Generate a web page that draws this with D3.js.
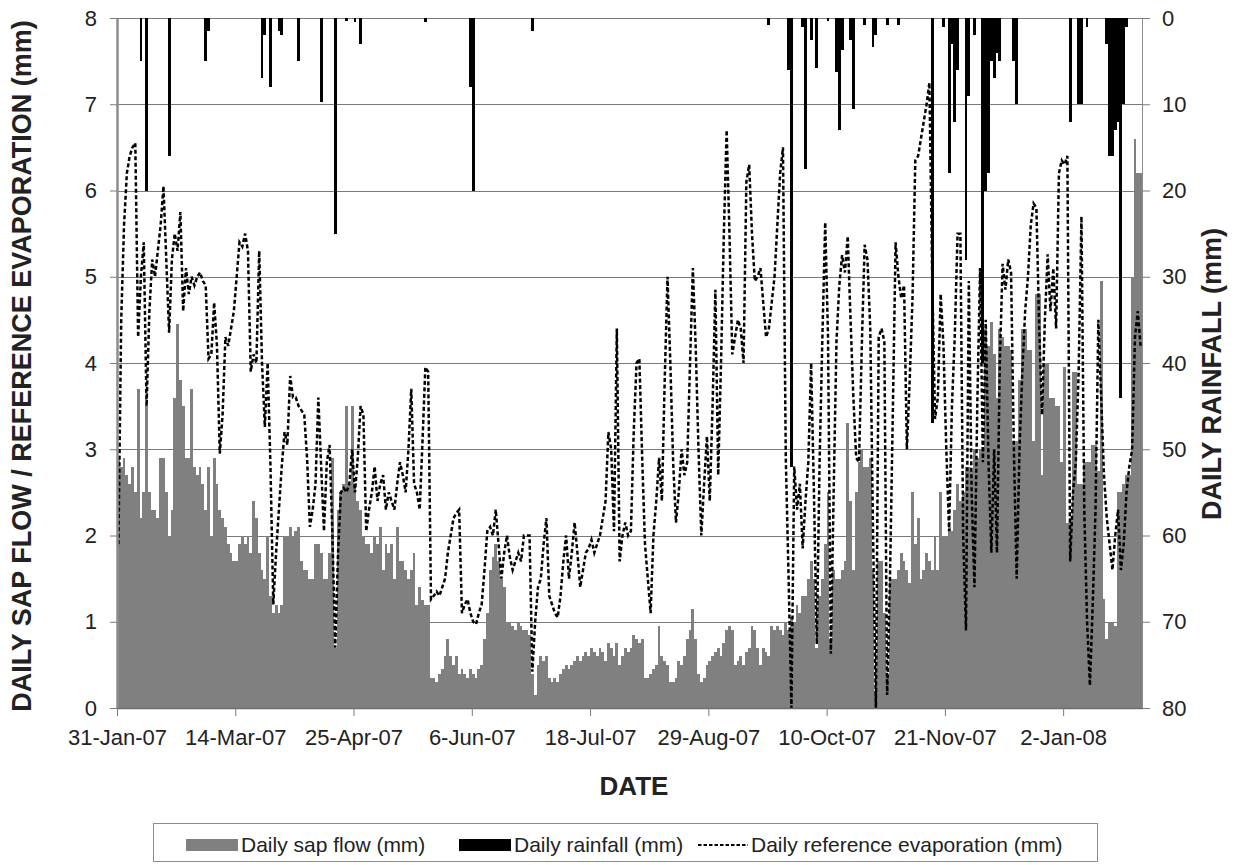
<!DOCTYPE html>
<html>
<head>
<meta charset="utf-8">
<script src="https://cdn.jsdelivr.net/npm/d3@7"></script>
<style>
  body { margin: 0; background: #fff; }
  text { font-family: 'Liberation Sans', Arial, sans-serif; fill: #222; }
</style>
</head>
<body>
<svg id="chart" width="1240" height="865"></svg>
<script>
// first day of the record, x-axis tick dates
const startDate = '31-Jan-07';
const tickLabels = ['31-Jan-07', '14-Mar-07', '25-Apr-07', '6-Jun-07', '18-Jul-07',
    '29-Aug-07', '10-Oct-07', '21-Nov-07', '2-Jan-08'];

// daily sap flow (mm), one value per day from startDate
const sapFlow = [
    2.9, 2.8, 2.9, 2.7, 2.6, 2.8, 2.5, 3.7, 2.2, 2.5,
    3.5, 2.5, 2.3, 2.3, 2.2, 2.9, 2.9, 2.5, 2.0, 2.3,
    3.6, 4.45, 3.8, 3.5, 2.9, 2.9, 3.7, 2.8, 2.7, 2.8,
    2.6, 2.3, 2.8, 2.0, 2.9, 2.6, 2.3, 2.2, 2.1, 1.9,
    1.8, 1.7, 1.7, 1.9, 2.0, 1.9, 2.0, 1.8, 2.4, 2.2,
    1.8, 1.6, 1.5, 2.0, 1.3, 1.1, 1.2, 1.1, 1.2, 2.0,
    2.0, 2.1, 2.0, 2.05, 2.1, 1.7, 1.6, 1.6, 1.5, 1.5,
    1.9, 1.9, 1.8, 1.5, 1.5, 1.8, 2.9, 0.7, 2.3, 2.5,
    2.6, 3.5, 2.6, 3.5, 2.6, 2.4, 2.3, 2.0, 1.9, 1.9,
    1.8, 2.0, 1.9, 2.1, 1.6, 1.9, 1.8, 1.9, 1.5, 2.1,
    1.7, 1.7, 1.6, 1.5, 1.6, 1.8, 1.2, 1.4, 1.25, 1.2,
    1.2, 0.35, 0.35, 0.3, 0.4, 0.45, 0.6, 0.8, 0.6, 0.5,
    0.6, 0.4, 0.45, 0.4, 0.35, 0.45, 0.4, 0.35, 0.45, 0.5,
    0.8, 1.1, 1.6, 1.75, 1.9, 1.7, 1.5, 1.4, 1.0, 1.0,
    0.95, 0.9, 1.0, 0.95, 0.9, 0.9, 0.85, 0.4, 0.15, 0.5,
    0.6, 0.55, 0.6, 0.35, 0.3, 0.35, 0.3, 0.4, 0.45, 0.5,
    0.45, 0.5, 0.55, 0.6, 0.55, 0.6, 0.65, 0.6, 0.7, 0.65,
    0.6, 0.7, 0.65, 0.55, 0.75, 0.7, 0.6, 0.75, 0.5, 0.6,
    0.7, 0.65, 0.7, 0.85, 0.8, 0.75, 0.8, 0.35, 0.35, 0.4,
    0.45, 0.5, 0.95, 0.6, 0.55, 0.5, 0.3, 0.3, 0.35, 0.55,
    0.5, 0.6, 0.8, 0.9, 1.15, 0.8, 0.4, 0.3, 0.35, 0.5,
    0.55, 0.6, 0.65, 0.7, 0.6, 0.75, 0.9, 0.95, 0.9, 0.5,
    0.55, 0.6, 0.5, 0.65, 0.7, 0.95, 0.9, 0.7, 0.5, 0.7,
    0.65, 0.6, 0.95, 0.9, 0.95, 0.9, 0.85, 1.0, 0.9, 1.05,
    1.0, 1.2, 1.1, 1.3, 1.3, 1.5, 1.7, 1.5, 0.7, 1.3,
    1.5, 1.9, 2.5, 0.8, 1.6, 1.5, 1.5, 1.6, 1.7, 3.3,
    2.4, 1.6, 2.5, 2.85, 3.0, 2.8, 2.8, 2.9, 1.6, 0.2,
    1.7, 1.7, 1.1, 0.4, 1.5, 1.5, 1.5, 1.6, 1.8, 1.7,
    1.6, 1.45, 2.5, 1.9, 2.2, 1.5, 1.6, 1.8, 1.7, 1.6,
    2.0, 1.6, 2.5, 2.0, 2.0, 2.1, 2.05, 2.3, 2.6, 2.4,
    2.5, 2.8, 2.8, 2.75, 3.0, 2.9, 3.0, 3.0, 4.4, 4.2,
    4.47, 4.1, 3.6, 4.4, 4.3, 4.2, 4.2, 4.15, 3.1, 3.1,
    3.8, 4.4, 4.4, 4.15, 4.15, 3.1, 4.8, 4.8, 2.7, 4.0,
    4.0, 3.6, 3.6, 3.5, 3.5, 2.85, 3.95, 2.15, 2.2, 3.9,
    3.9, 2.6, 2.6, 2.85, 2.85, 2.85, 3.05, 3.05, 2.75, 4.95,
    1.26, 0.8, 1.0, 1.0, 0.95, 2.5, 2.5, 2.6, 2.7, 2.7,
    5.0, 6.6, 6.2, 6.2
];

// daily reference evaporation (mm)
const refEvap = [
    1.9, 4.5, 5.6, 6.2, 6.4, 6.5, 6.55, 4.3, 5.0, 5.4,
    3.5, 4.6, 5.2, 5.0, 5.3, 5.6, 6.05, 5.2, 4.35, 5.2,
    5.5, 5.3, 5.75, 4.6, 5.1, 4.8, 5.0, 4.9, 5.0, 5.05,
    4.95, 4.9, 4.05, 4.1, 4.7, 4.2, 2.95, 3.4, 4.3, 4.2,
    4.4, 4.6, 5.0, 5.4, 5.35, 5.5, 5.3, 3.9, 4.1, 4.0,
    5.3, 4.0, 3.26, 4.0, 2.8, 1.2, 1.8, 2.3, 2.8, 3.2,
    3.05, 3.85, 3.6, 3.6, 3.5, 3.45, 3.4, 2.9, 2.1, 2.3,
    2.6, 3.6, 2.8, 2.05, 2.85, 3.05, 2.0, 0.7, 1.8, 2.5,
    2.55, 2.5, 2.6, 3.0, 2.5, 2.9, 3.5, 3.4, 2.05, 2.3,
    2.5, 2.8, 2.4, 2.6, 2.7, 2.3, 2.5, 2.4, 2.3, 2.6,
    2.85, 2.7, 2.5, 3.0, 3.7, 2.6, 2.5, 2.3, 3.1, 3.95,
    3.9, 1.26, 1.3, 1.35, 1.3, 1.4, 1.5, 1.8, 2.0, 2.2,
    2.26, 2.3, 1.1, 1.2, 1.26, 1.1, 1.0, 0.97, 1.1, 1.2,
    1.6, 2.05, 2.1, 2.0, 2.3, 1.9, 1.5, 1.8, 2.0, 1.75,
    1.6, 1.7, 1.8, 1.7, 2.0, 2.0, 2.0, 0.42, 1.0, 1.4,
    1.5, 1.9, 2.2, 1.3, 1.2, 1.1, 1.05, 1.3, 1.7, 2.0,
    1.5, 1.8, 2.15, 1.8, 1.4, 1.6, 1.8, 1.85, 1.95, 1.8,
    1.9, 2.0, 2.2, 2.4, 3.2, 3.0, 2.05, 4.4, 1.7, 2.0,
    2.15, 2.0, 2.05, 3.2, 4.0, 4.05, 2.9, 1.9, 1.5, 1.1,
    2.0, 2.4, 2.9, 2.4, 3.8, 5.0, 4.0, 2.85, 2.15, 2.5,
    3.0, 2.7, 2.85, 4.0, 5.1, 4.2, 3.0, 2.0, 2.6, 3.15,
    2.4, 3.5, 4.85, 2.7, 4.0, 5.5, 6.7, 5.5, 4.1, 4.3,
    4.5, 4.4, 4.0, 6.1, 6.3, 5.5, 4.95, 5.0, 5.1, 4.7,
    4.3, 4.4, 4.7, 5.0, 5.6, 6.2, 6.5, 2.9, 1.5, 0.0,
    2.8, 2.3, 2.6, 1.85, 2.4, 2.85, 4.0, 2.5, 0.74, 2.85,
    4.3, 5.63, 4.3, 0.63, 2.5, 4.25, 4.9, 5.25, 5.05, 5.47,
    4.5, 3.6, 2.9, 2.85, 4.2, 5.37, 5.2, 4.4, 2.0, 0.0,
    4.3, 4.4, 4.25, 0.15, 1.5, 3.4, 5.4, 5.0, 4.75, 4.9,
    3.0, 3.8, 4.75, 6.35, 6.4, 6.6, 6.8, 7.0, 7.25, 5.0,
    3.35, 3.6, 4.8, 4.2, 3.0, 2.05, 3.5, 4.3, 5.5, 5.5,
    2.0, 0.9, 4.95, 2.5, 1.4, 3.5, 5.1, 2.85, 4.5, 2.85,
    1.8, 3.0, 1.8, 4.0, 5.15, 4.85, 5.2, 5.05, 3.0, 1.5,
    3.0, 3.9, 4.6, 5.0, 5.6, 5.85, 5.8, 4.4, 3.4, 4.5,
    5.26, 4.6, 5.1, 4.4, 6.2, 6.35, 6.3, 6.4, 1.7, 2.5,
    2.85, 3.9, 5.7, 2.3, 1.0, 0.26, 1.2, 2.3, 4.5, 3.6,
    2.7, 2.2, 1.9, 1.6, 2.0, 2.3, 1.6, 1.9, 2.5, 2.8,
    3.0, 4.3, 4.6, 4.2
];

// rainfall days (index from startDate) and amounts (mm); other days are dry
const rainDay = [8, 10, 18, 31, 32, 51, 52, 54, 57, 58, 64, 72, 77, 81, 84, 86, 109, 125, 126, 147,
    231, 238, 239, 243, 244, 246, 248, 252, 255, 256, 257, 260, 261, 265, 268, 269, 273, 277,
    289, 293, 295, 296, 297, 298, 301, 302, 304, 307, 308, 309, 310, 311, 312, 313, 318, 319,
    338, 341, 342, 344, 351, 352, 353, 354, 355, 356, 357, 358];
const rainMm = [5, 20, 16, 5, 1.5, 7, 2, 8, 1.5, 2, 5, 9.7, 25, 0.4, 0.5, 3, 0.5, 8, 20, 1.5,
    0.8, 6, 52, 1, 17.5, 2.6, 5.8, 0.4, 6.3, 13, 3.7, 2.6, 10.5, 0.8, 3.4, 2, 0.8, 0.8,
    47, 1, 18, 3, 12, 6, 28, 9, 2, 40, 20, 18, 5, 7, 4, 5, 5, 10,
    12, 10, 10, 1, 3, 16, 16, 13, 12, 44, 10, 1];

const parse = d3.utcParse('%d-%b-%y');
const start = parse(startDate);
const nDays = sapFlow.length;
const day = i => d3.utcDay.offset(start, i);

const plotLeft = 117, plotRight = 1142, plotTop = 18, plotBottom = 708;

const x = d3.scaleUtc().domain([start, day(nDays)]).range([plotLeft, plotRight]);
const yL = d3.scaleLinear().domain([0, 8]).range([plotBottom, plotTop]);
const yR = d3.scaleLinear().domain([0, 80]).range([plotTop, plotBottom]);
const barW = x(day(1)) - x(start);
// whole-pixel bar edges so neighbouring columns join without seams
const barX = i => Math.round(x(day(i)));
const barWidth = i => barX(i + 1) - barX(i);

const svg = d3.select('#chart');

// horizontal gridlines
svg.append('g')
    .selectAll('line')
    .data(d3.range(1, 9))
    .join('line')
    .attr('x1', plotLeft)
    .attr('x2', plotRight)
    .attr('y1', d => Math.round(yL(d)) + 0.5)
    .attr('y2', d => Math.round(yL(d)) + 0.5)
    .attr('stroke', '#7a7a7a')
    .attr('stroke-width', 1);

// sap flow bars
svg.append('g')
    .attr('shape-rendering', 'crispEdges')
    .selectAll('rect')
    .data(sapFlow)
    .join('rect')
    .attr('x', (_, i) => barX(i))
    .attr('width', (_, i) => barWidth(i))
    .attr('y', d => yL(d))
    .attr('height', d => plotBottom - yL(d))
    .attr('fill', '#808080');

// rainfall bars hanging from the top
svg.append('g')
    .attr('shape-rendering', 'crispEdges')
    .selectAll('rect')
    .data(rainDay)
    .join('rect')
    .attr('x', d => barX(d))
    .attr('width', d => barWidth(d))
    .attr('y', plotTop)
    .attr('height', (_, i) => yR(rainMm[i]) - plotTop)
    .attr('fill', '#000');

// reference evaporation, dashed
const line = d3.line()
    .x((_, i) => x(day(i)) + barW / 2)
    .y(d => yL(d));

svg.append('path')
    .datum(refEvap)
    .attr('d', line)
    .attr('fill', 'none')
    .attr('stroke', '#000')
    .attr('stroke-width', 2.5)
    .attr('stroke-dasharray', '4,2.5');

// axes
const styleAxis = (g, color, width) => {
    g.select('.domain').attr('stroke', color).attr('stroke-width', width).attr('fill', 'none');
    g.selectAll('.tick line').attr('stroke', '#7a7a7a');
    g.selectAll('.tick text').style('font-size', '22px').attr('fill', '#222');
};

svg.append('g')
    .attr('transform', `translate(${plotLeft},0)`)
    .call(d3.axisLeft(yL).ticks(8).tickSize(7).tickSizeOuter(0).tickPadding(13).tickFormat(d3.format('d')))
    .call(g => styleAxis(g, '#8c8c8c', 2.5));

svg.append('g')
    .attr('transform', `translate(${plotRight},0)`)
    .call(d3.axisRight(yR).tickValues(d3.range(0, 81, 10)).tickSize(8).tickSizeOuter(0).tickPadding(12))
    .call(g => styleAxis(g, '#8c8c8c', 1));

svg.append('g')
    .attr('transform', `translate(0,${plotBottom})`)
    .call(d3.axisBottom(x)
        .tickValues(tickLabels.map(parse))
        .tickFormat(d3.utcFormat('%-d-%b-%y'))
        .tickSize(8).tickSizeOuter(0).tickPadding(13))
    .call(g => styleAxis(g, '#6e6e6e', 1.5));

// axis titles
svg.append('text')
    .attr('transform', 'translate(31,366) rotate(-90)')
    .attr('text-anchor', 'middle')
    .style('font-size', '27px')
    .style('font-weight', 'bold')
    .text('DAILY SAP FLOW / REFERENCE EVAPORATION (mm)');

svg.append('text')
    .attr('transform', 'translate(1202,374) rotate(-90)')
    .attr('text-anchor', 'middle')
    .attr('dy', '0.7em')
    .style('font-size', '27px')
    .style('font-weight', 'bold')
    .text('DAILY RAINFALL (mm)');

svg.append('text')
    .attr('x', 634)
    .attr('y', 795)
    .attr('text-anchor', 'middle')
    .style('font-size', '26px')
    .style('font-weight', 'bold')
    .text('DATE');

// legend
const legend = svg.append('g');
legend.append('rect')
    .attr('x', 153.5).attr('y', 823.5)
    .attr('width', 944).attr('height', 38)
    .attr('fill', '#fff').attr('stroke', '#8c8c8c');

legend.append('rect').attr('x', 186).attr('y', 839).attr('width', 52).attr('height', 12).attr('fill', '#808080');
legend.append('rect').attr('x', 459).attr('y', 839).attr('width', 52).attr('height', 12).attr('fill', '#000');
legend.append('line')
    .attr('x1', 698).attr('x2', 748).attr('y1', 845).attr('y2', 845)
    .attr('stroke', '#000').attr('stroke-width', 2).attr('stroke-dasharray', '3.5,2');

legend.selectAll('text.item')
    .data([
        { x: 241, label: 'Daily sap flow (mm)' },
        { x: 514, label: 'Daily rainfall (mm)' },
        { x: 751, label: 'Daily reference evaporation (mm)' }
    ])
    .join('text')
    .classed('item', true)
    .attr('x', d => d.x)
    .attr('y', 852)
    .style('font-size', '21px')
    .text(d => d.label);
</script>
</body>
</html>
